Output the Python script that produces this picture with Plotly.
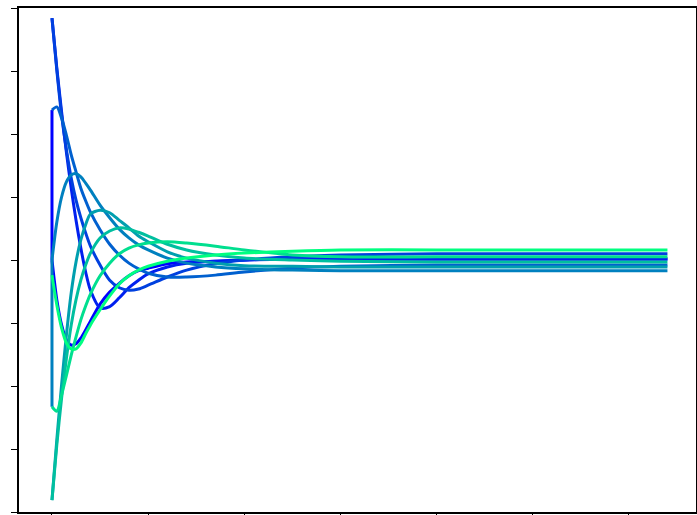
import plotly.graph_objects as go

# shared sample positions (x) for all curves
x_grid = [0, 0.5, 1, 1.5, 2, 2.5, 3, 3.5, 4, 5, 6, 7, 8, 9, 10, 12, 14, 17, 20, 25, 30, 40, 50, 64]

# curves; some start with an extra point at x = 0
y0 = [0, -0.63, -1.03, -1.27, -1.35, -1.33, -1.24, -1.11, -0.97, -0.70, -0.51, -0.37,
      -0.25, -0.17, -0.13, -0.06, -0.03, -0.02, 0.0, 0.01, 0.01, 0.01, 0.01, 0.01]
y1 = [3.84, 3.05, 2.35, 1.71, 1.14, 0.63, 0.19, -0.19, -0.48, -0.76, -0.74, -0.60,
      -0.44, -0.32, -0.22, -0.11, -0.05, -0.02, 0.0, 0.02, 0.02, 0.02, 0.02, 0.02]
y2 = [3.84, 3.02, 2.30, 1.75, 1.30, 0.95, 0.67, 0.43, 0.22, -0.08, -0.32, -0.44,
      -0.48, -0.46, -0.40, -0.27, -0.16, -0.06, 0.0, 0.05, 0.08, 0.10, 0.10, 0.10]
y3 = [2.38, 2.43, 2.25, 1.98, 1.67, 1.40, 1.14, 0.94, 0.76, 0.48, 0.25, 0.08,
      -0.05, -0.14, -0.21, -0.27, -0.27, -0.24, -0.19, -0.13, -0.10, -0.08, -0.08, -0.08]
y4 = [0, 0.60, 1.00, 1.24, 1.35, 1.37, 1.32, 1.22, 1.11, 0.87, 0.67, 0.49,
      0.35, 0.24, 0.16, 0.03, -0.05, -0.11, -0.14, -0.16, -0.17, -0.17, -0.17, -0.17]
y5 = [-3.81, -2.86, -1.98, -1.19, -0.52, -0.03, 0.32, 0.56, 0.73, 0.79, 0.75, 0.63,
      0.51, 0.38, 0.29, 0.13, 0.03, -0.05, -0.09, -0.10, -0.11, -0.11, -0.11, -0.11]
y6 = [-3.81, -2.94, -2.19, -1.56, -1.03, -0.63, -0.32, -0.08, 0.11, 0.35, 0.46, 0.51,
      0.49, 0.44, 0.38, 0.25, 0.16, 0.08, 0.03, 0.0, -0.02, -0.03, -0.03, -0.03]
y7 = [-2.33, -2.40, -2.14, -1.83, -1.51, -1.22, -0.95, -0.73, -0.54, -0.25, -0.05, 0.10,
      0.19, 0.24, 0.27, 0.29, 0.27, 0.22, 0.16, 0.08, 0.05, 0.05, 0.05, 0.05]
y8 = [-0.24, -0.71, -1.08, -1.32, -1.41, -1.41, -1.32, -1.17, -1.03, -0.79, -0.57, -0.38,
      -0.25, -0.16, -0.10, -0.02, 0.03, 0.08, 0.11, 0.14, 0.16, 0.16, 0.16, 0.16]

# value at x = 0 joined straight to the curve's first point (None = no extra point)
lead = [2.38, None, None, None, -2.33, None, None, None, None]
curves = [y0, y1, y2, y3, y4, y5, y6, y7, y8]
colors = ['#0000ff', '#0020ef', '#0040df', '#0060cf', '#0080bf',
          '#009faf', '#00bf9f', '#00df8f', '#00ff80']

fig = go.Figure()
for ys, start, col in zip(curves, lead, colors):
    if start is not None:
        fig.add_trace(go.Scatter(x=[x_grid[0], x_grid[0]], y=[start, ys[0]], mode='lines',
                                 line=dict(color=col, width=3),
                                 showlegend=False, hoverinfo='skip'))
    fig.add_trace(go.Scatter(x=x_grid, y=ys, mode='lines',
                             line=dict(color=col, width=3, shape='spline', smoothing=0.8),
                             showlegend=False, hoverinfo='skip'))

axis_style = dict(showline=True, mirror=True, linecolor='black', linewidth=1.5,
                  ticks='outside', ticklen=6, tickwidth=1.3, tickcolor='black',
                  showticklabels=False, showgrid=False, zeroline=False)
fig.update_xaxes(range=[-3.43, 66.97], tick0=0, dtick=10, **axis_style)
fig.update_yaxes(range=[-4, 4], tick0=0, dtick=1, **axis_style)
fig.update_layout(width=697, height=515, autosize=False,
                  margin=dict(l=19, r=1, t=8, b=3, autoexpand=False),
                  paper_bgcolor='white', plot_bgcolor='white')

fig.write_html("out.html", config={'responsive': False, 'displayModeBar': False},
               post_script="document.body.style.margin='0px';"
                           "document.body.style.overflow='hidden';")
